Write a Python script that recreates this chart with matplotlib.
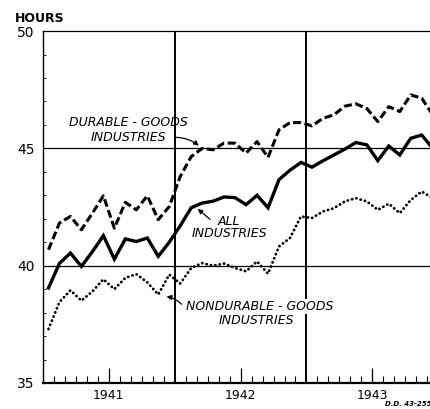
import matplotlib

matplotlib.use("Agg")
import matplotlib.pyplot as plt
import numpy as np

# average weekly hours, monthly Jan 1941 - Dec 1943
years = ["1941", "1942", "1943"]
all_industries = [39.05, 40.1, 40.54, 39.97, 40.6, 41.28, 40.28, 41.14, 41.03, 41.18, 40.4, 41.0,
                  41.7, 42.47, 42.67, 42.75, 42.93, 42.9, 42.6, 43.0, 42.47, 43.67, 44.07, 44.4,
                  44.2, 44.47, 44.72, 44.97, 45.25, 45.15, 44.48, 45.1, 44.72, 45.43, 45.57, 45.0]
durable = [40.68, 41.82, 42.1, 41.53, 42.24, 42.98, 41.6, 42.7, 42.38, 42.98, 41.96, 42.52,
           43.8, 44.65, 45.0, 44.94, 45.23, 45.22, 44.8, 45.29, 44.62, 45.79, 46.1, 46.1,
           45.96, 46.28, 46.43, 46.8, 46.9, 46.7, 46.14, 46.78, 46.57, 47.28, 47.14, 46.43]
nondurable = [37.3, 38.45, 38.95, 38.51, 38.9, 39.42, 39.0, 39.48, 39.64, 39.29, 38.77, 39.62,
              39.24, 39.9, 40.11, 40.0, 40.09, 39.9, 39.76, 40.18, 39.66, 40.82, 41.18, 42.1,
              42.03, 42.31, 42.45, 42.74, 42.88, 42.74, 42.38, 42.64, 42.24, 42.8, 43.16, 42.88]
y_ticks = [35, 40, 45, 50]

x = np.arange(len(all_industries)) + 0.5

fig = plt.figure(figsize=(4.3, 4.09), dpi=100)
ax = fig.add_axes([0.1, 0.0636, 0.905, 0.8604])

ax.set_xlim(0, 35.45)
ax.set_ylim(35, 50)

# grid
for yv in (40, 45):
    ax.axhline(yv, color="black", lw=0.9, zorder=1)
for xv in (12, 24):
    ax.axvline(xv, color="black", lw=1.4, zorder=1)

ax.plot(x, durable, color="black", lw=2.2, dashes=(2.6, 1.15), solid_capstyle="butt", zorder=3)
ax.plot(x, all_industries, color="black", lw=2.4, solid_joinstyle="miter", zorder=3)
ax.plot(x, nondurable, color="black", lw=2.0, linestyle=(0, (0.1, 1.5)),
        dash_capstyle="round", zorder=3)

ax.spines["right"].set_visible(False)
ax.spines["top"].set_linewidth(0.9)
ax.spines["left"].set_linewidth(1.0)
ax.spines["bottom"].set_linewidth(1.6)

ax.set_yticks(y_ticks)
ax.set_yticklabels([str(v) for v in y_ticks], fontsize=10)
ax.set_yticks(np.arange(35, 51, 1), minor=True)
ax.tick_params(axis="y", which="major", length=0, pad=6)
ax.tick_params(axis="y", which="minor", length=2, width=0.6, direction="in")

ax.set_xticks(np.arange(0, 36, 1), minor=True)
ax.set_xticks([6, 18, 30])
ax.set_xticklabels(years, fontsize=9)
ax.tick_params(axis="x", which="major", length=11, width=0.9, direction="in", pad=4)
ax.tick_params(axis="x", which="minor", length=5, width=0.8, direction="in")

fig.text(0.035, 0.939, "HOURS", fontsize=9, fontweight="bold", ha="left", va="bottom")

lab = dict(fontsize=9, style="italic", ha="center", va="center", multialignment="center")
arrow = dict(arrowstyle="-|>", color="black", lw=0.9, mutation_scale=7)

ax.text(7.81, 45.77, "DURABLE - GOODS\nINDUSTRIES", linespacing=1.2, **lab)
ax.annotate("", xy=(14.38, 45.04), xytext=(11.9, 45.47),
            arrowprops=dict(**arrow, connectionstyle="arc3,rad=-0.2"))

ax.text(16.94, 41.64, "ALL\nINDUSTRIES", linespacing=0.9, **lab)
ax.annotate("", xy=(13.9, 42.5), xytext=(15.4, 41.9),
            arrowprops=dict(**arrow, connectionstyle="arc3,rad=0"))

ax.text(13.05, 38.26, "NONDURABLE - GOODS", **{**lab, "ha": "left"},
        bbox=dict(facecolor="white", edgecolor="none", pad=0.5))
ax.text(19.41, 37.66, "INDUSTRIES", **lab)
ax.annotate("", xy=(11.0, 38.7), xytext=(12.8, 38.27),
            arrowprops=dict(**arrow, connectionstyle="arc3,rad=0.2"))

fig.text(0.895, 0.005, "D.D. 43-255", fontsize=5, style="italic", fontweight="bold",
         ha="left", va="bottom")

fig.savefig("out.png", dpi=100)
